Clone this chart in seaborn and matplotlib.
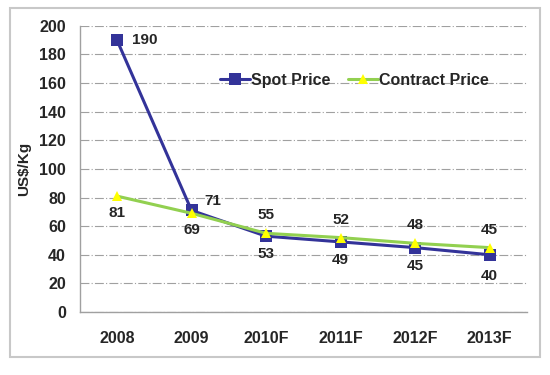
import pandas as pd
import matplotlib.pyplot as plt
import seaborn as sns
from matplotlib.patches import Rectangle

years = ["2008", "2009", "2010F", "2011F", "2012F", "2013F"]
spot = [190, 71, 53, 49, 45, 40]
contract = [81, 69, 55, 52, 48, 45]

sns.set_style("white")
plt.rcParams['font.family'] = ['Liberation Sans', 'DejaVu Sans']
plt.rcParams['font.weight'] = 'bold'

df = pd.DataFrame({"year": years, "Spot Price": spot, "Contract Price": contract})

fig = plt.figure(figsize=(5.5, 3.75), dpi=100)
ax = fig.add_axes([0.145, 0.168, 0.813, 0.763])

# outer frame round the whole chart
fig.patches.append(Rectangle((10 / 550, 1 - 357 / 375), 530 / 550, 349 / 375,
                             transform=fig.transFigure, fill=False,
                             edgecolor='#c8c8c8', linewidth=1.5))

x = list(range(len(years)))
sns.lineplot(x=x, y=df["Spot Price"], ax=ax, color='#333399', linewidth=2.2,
             marker='s', markersize=9, markeredgewidth=0, label='Spot Price')
sns.lineplot(x=x, y=df["Contract Price"], ax=ax, color='#92D050', linewidth=2.2,
             marker='^', markersize=7.5, markerfacecolor='#FFFF00',
             markeredgewidth=0, label='Contract Price')

fs = 11
# data labels
spot_off = [(11, 0, 'left'), (9, 7, 'left'), (0, -13, 'center'), (0, -13, 'center'),
            (0, -13, 'center'), (0, -15, 'center')]
for i, v in enumerate(spot):
    dx, dy, ha = spot_off[i]
    ax.annotate(str(v), (i, v), xytext=(dx, dy), textcoords='offset points',
                ha=ha, va='center', fontsize=fs, fontweight='bold')
for i, v in enumerate(contract):
    dy = -12 if i < 2 else 13
    ax.annotate(str(v), (i, v), xytext=(0, dy), textcoords='offset points',
                ha='center', va='center', fontsize=fs, fontweight='bold')

ax.set_xlim(-0.5, 5.5)
ax.set_ylim(0, 200)
ax.set_yticks(range(0, 201, 20))
ax.set_xticks(x)
ax.set_xticklabels(years)
ax.tick_params(length=0, labelsize=11.5, pad=10)
ax.tick_params(axis='x', pad=14)
for lab in ax.get_xticklabels() + ax.get_yticklabels():
    lab.set_fontweight('bold')
ax.set_xlabel('')
ax.set_ylabel('US$/Kg', fontsize=fs, fontweight='bold', labelpad=6)

ax.grid(axis='y', color='#a0a0a0', linestyle=(0, (8, 2, 1, 2)), linewidth=0.8)
ax.set_axisbelow(True)
for s in ['top', 'right']:
    ax.spines[s].set_visible(False)
for s in ['left', 'bottom']:
    ax.spines[s].set_color('#a0a0a0')
    ax.spines[s].set_linewidth(1.0)

ax.legend(loc='center left', bbox_to_anchor=(0.295, 0.81), ncol=2, frameon=False,
          handlelength=1.9, handletextpad=0.05, columnspacing=1.1,
          borderpad=0, prop={'weight': 'bold', 'size': 11.5})

fig.savefig('out.png', dpi=100)
